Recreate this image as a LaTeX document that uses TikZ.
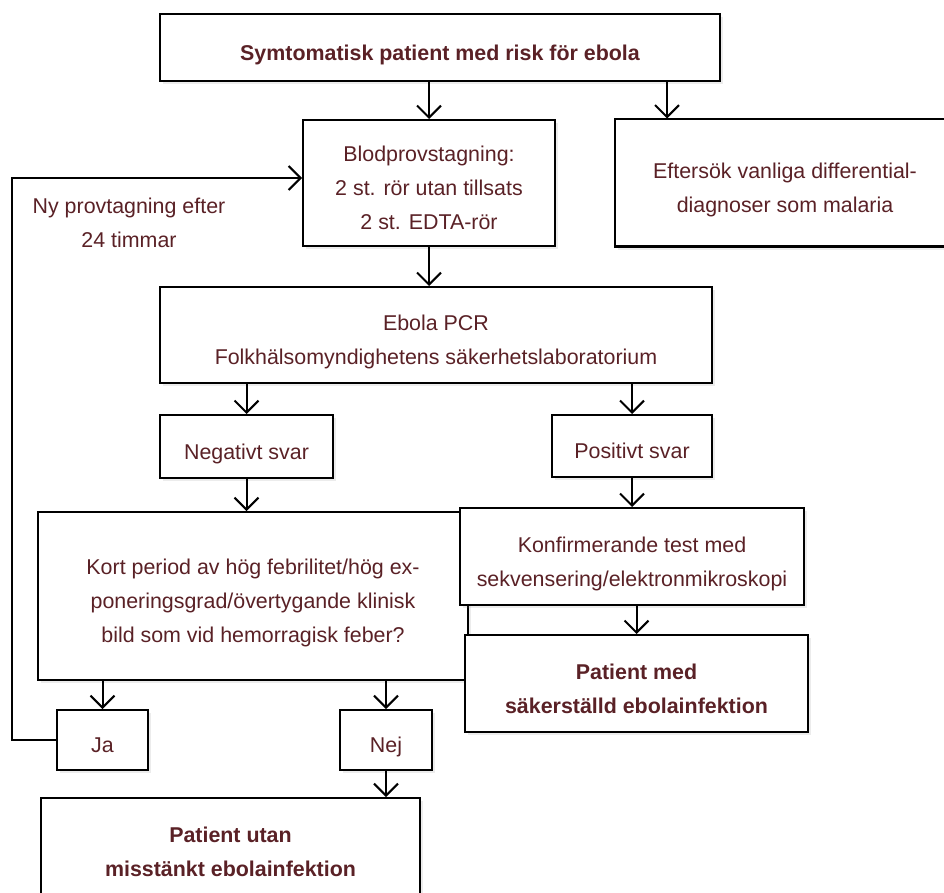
\documentclass[tikz,border=0pt]{standalone}
\usepackage{fontspec}
\setmainfont{Liberation Sans}
\usetikzlibrary{arrows.meta, shadows}
\definecolor{ebtext}{HTML}{5A2126}
\newcommand{\boxlines}[1]{\raisebox{-6pt}[\height][\depth]{\begin{tabular}{@{}c@{}}#1\end{tabular}}}

\begin{document}
\begin{tikzpicture}[x=1pt, y=-1pt, line width=2pt,
    box/.style={draw, fill=white, rectangle, text=ebtext,
        font=\fontsize{21.4}{34}\selectfont, inner sep=0pt,
        drop shadow={shadow xshift=3pt, shadow yshift=-3pt, opacity=.15}},
    boldbox/.style={box, font=\fontsize{21.4}{34}\selectfont\bfseries},
    arr/.style={-{Straight Barb[length=12pt, width=24pt, line width=2pt]}}]
    \useasboundingbox (0, 0) rectangle (944, 893);
    \node [boldbox, minimum width=560pt, minimum height=67pt] (top) at (440, 48)
        {\boxlines{Symtomatisk patient med risk för ebola}};
    \node [box, minimum width=252pt, minimum height=126pt] (blod) at (429, 183)
        {\boxlines{Blodprovstagning:\\2 st. rör utan tillsats\\2 st. EDTA-rör}};
    \node [box, minimum width=340pt, minimum height=127pt] (efter) at (785, 183)
        {\boxlines{Eftersök vanliga differential-\\diagnoser som malaria}};
    \node [box, minimum width=552pt, minimum height=96pt] (pcr) at (436, 335)
        {\boxlines{Ebola PCR\\Folkhälsomyndighetens säkerhetslaboratorium}};
    \node [box, minimum width=173pt, minimum height=63pt] (neg) at (246.5, 446.5)
        {\boxlines{Negativt svar}};
    \node [box, minimum width=160pt, minimum height=62pt] (pos) at (632, 446)
        {\boxlines{Positivt svar}};
    \node [box, minimum width=430pt, minimum height=168pt] (kort) at (253, 596)
        {\boxlines{Kort period av hög febrilitet/hög ex-\\poneringsgrad/övertygande klinisk\\bild som vid hemorragisk feber?}};
    \node [box, minimum width=344pt, minimum height=97pt] (konf) at (632, 556.5)
        {\boxlines{Konfirmerande test med\\sekvensering/elektronmikroskopi}};
    \node [boldbox, minimum width=343pt, minimum height=97pt] (pmed) at (636.5, 683.5)
        {\boxlines{Patient med\\säkerställd ebolainfektion}};
    \node [box, minimum width=91pt, minimum height=60pt] (ja) at (102.5, 740) {\boxlines{Ja}};
    \node [box, minimum width=92pt, minimum height=60pt] (nej) at (386, 740) {\boxlines{Nej}};
    \node [boldbox, minimum width=379pt, minimum height=98pt] (putan) at (230.5, 847)
        {\boxlines{Patient utan\\misstänkt ebolainfektion}};
    \node [text=ebtext, align=center, font=\fontsize{21.4}{34}\selectfont] (ny) at (129, 223)
        {Ny provtagning efter\\24 timmar};
    \coordinate (loop) at (12, 178);
    % flow
    \draw [arr] (top.south -| blod.north) -- (blod.north);
    \draw [arr] (top.south -| 667, 0) -- (efter.north -| 667, 0);
    \draw [arr] (blod.south) -- (blod.south |- pcr.north);
    \draw [arr] (pcr.south -| neg.north) -- (neg.north);
    \draw [arr] (pcr.south -| pos.north) -- (pos.north);
    \draw [arr] (neg.south) -- (neg.south |- kort.north);
    \draw [arr] (pos.south) -- (pos.south |- konf.north);
    \draw [arr] (konf.south -| pmed.north) -- (pmed.north);
    \draw [arr] (kort.south -| ja.north) -- (ja.north);
    \draw [arr] (kort.south -| nej.north) -- (nej.north);
    \draw [arr] (nej.south) -- (nej.south |- putan.north);
    \draw [arr] (ja.west) -| (loop) -- (loop -| blod.west);
\end{tikzpicture}
\end{document}
